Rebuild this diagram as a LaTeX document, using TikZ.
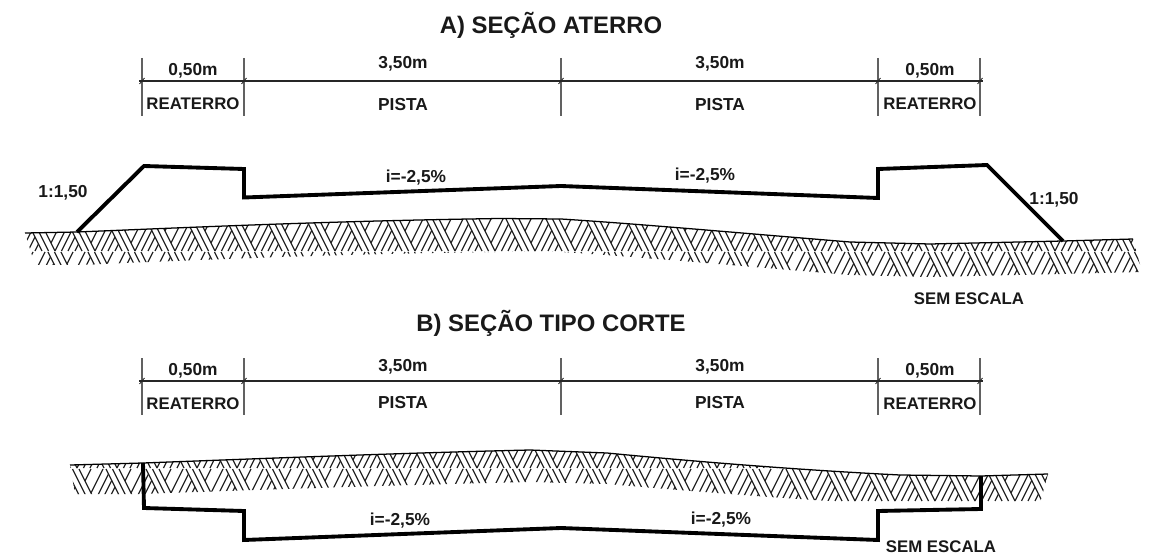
\documentclass[tikz,border=0pt]{standalone}
\usepackage{fontspec}
\setmainfont{Liberation Sans}
\tikzset{
  px/.style={x=0.75pt,y=-0.75pt},
  road/.style={line width=2.9pt,line join=miter,black},
  groundline/.style={line width=0.95pt,black},
  hatch/.style={line width=0.9pt,black!85},
  dimline/.style={line width=1pt,black!62},
  dimhoriz/.style={line width=0.85pt,black!85},
  dimtick/.style={line width=0.5pt,black},
  txt/.style={inner sep=0pt,font=\fontsize{13pt}{14pt}\selectfont\bfseries,text=black!90},
  txtb/.style={inner sep=0pt,font=\fontsize{12.6pt}{14pt}\selectfont\bfseries,text=black!90},
  ttl/.style={inner sep=0pt,font=\fontsize{17.9pt}{20pt}\selectfont\bfseries,text=black!90}
}
% herringbone tiles: #1 row top y, #2 x shift
\newcommand{\hbrow}[2]{%
  \foreach \k in {-1,...,29}{
    \pgfmathsetmacro{\u}{#2+40*\k}
    \draw[hatch] ({\u},#1) -- ++(16,32) ({\u+6.5},#1) -- ++(16,32) ({\u+13},#1) -- ++(16,32)
      ({\u+29},#1+32) -- ({\u+42.5},#1+5)
      ({\u+35.5},#1+32) -- ({\u+45.75},#1+11.5)
      ({\u+42},#1+32) -- ({\u+49},#1+18)
      ({\u+49},#1+32) -- ({\u+52.5},#1+25)
      ({\u+19},#1+12) -- ({\u+25},#1)
      ({\u+25},#1+24) -- ({\u+37},#1);
  }}
\begin{document}
\begin{tikzpicture}[px]
\useasboundingbox (0,0) rectangle (1161,556);
\node[ttl] (ta) at (551,25) {A) SEÇÃO ATERRO};
\node[ttl] (tb) at (551,323) {B) SEÇÃO TIPO CORTE};
% ---- section A
\begin{scope}
\clip (25,233) -- (77,232) .. controls (200,227) and (330,221) .. (500,218.5)
  -- (561,219) .. controls (640,224) and (740,233) .. (850,242) -- (930,244) -- (1063,241) -- (1133,239)
  -- (1142,272) -- (1060,274) -- (930,277) -- (850,275) .. controls (740,266) and (640,257) .. (561,252)
  -- (500,252) .. controls (330,254) and (200,260) .. (77,265) -- (35,265) -- cycle;
\hbrow{186}{8}\hbrow{219}{26}\hbrow{252}{8}
\end{scope}
\draw[groundline] (25,233) coordinate (ga0) -- (77,232) coordinate (ga1) .. controls (200,227) and (330,221) .. (500,218.5)
  -- (561,219) .. controls (640,224) and (740,233) .. (850,242) -- (930,244) -- (1063,241) coordinate (ga2) -- (1133,239) coordinate (ga3);
\draw[road] (ga1) -- (144,166) -- (244,169) -- (244,197.5) -- (561,186) -- (878,198) -- (878,169) -- (987,165) -- (ga2);
% dims A
\foreach \x/\n in {142/a,244/b,561/c,878/d,980/e}{
  \coordinate (\n t) at (\x,58); \coordinate (\n b) at (\x,116);
  \draw[dimline] (\n t) -- (\n b);
  \draw[dimtick] (\x-2.5,84) -- (\x+2.5,78);
}
\draw[dimhoriz] (139,81) -- (983,81);
\node[txt] (a1) at (193,71) {0,50m};
\node[txt] (a2) at (403,64) {3,50m};
\node[txt] (a3) at (720,64) {3,50m};
\node[txt] (a4) at (930,71) {0,50m};
\node[txtb] (a5) at (193,104) {REATERRO};
\node[txt] (a6) at (403,105) {PISTA};
\node[txt] (a7) at (720,105) {PISTA};
\node[txtb] (a8) at (930,104) {REATERRO};
\node[txt] (a9) at (63,193) {1:1,50};
\node[txt] (a10) at (1054,200) {1:1,50};
\node[txt] (a11) at (416,178) {i=-2,5\%};
\node[txt] (a12) at (705,176) {i=-2,5\%};
\node[txtb] (a13) at (969,299) {SEM ESCALA};
% ---- section B
\begin{scope}
\clip (70,465) -- (143,463) .. controls (250,459) and (400,453) .. (530,450) -- (607,453)
  .. controls (700,462) and (800,470) .. (900,475) -- (980,476) -- (1048,474) -- (1040,503) -- (980,506) -- (900,505)
  .. controls (800,500) and (700,492) .. (607,484) -- (530,482) .. controls (400,485) and (250,490) .. (143,494) -- (75,494) -- cycle;
\hbrow{403}{20}\hbrow{436}{8}\hbrow{469}{26}
\end{scope}
\draw[groundline] (70,465) -- (143,463) coordinate (gb1) .. controls (250,459) and (400,453) .. (530,450) -- (607,453)
  .. controls (700,462) and (800,470) .. (900,475) -- (981,476) coordinate (gb2) -- (1048,474);
\draw[road] (gb1) -- (144,508) -- (244,511) -- (244,540) -- (561,528) -- (878,540) -- (878,511) -- (981,509) -- (gb2);
\foreach \x/\n in {142/f,244/g,561/h,878/i,980/j}{
  \coordinate (\n t) at (\x,358); \coordinate (\n b) at (\x,415);
  \draw[dimline] (\n t) -- (\n b);
  \draw[dimtick] (\x-2.5,384) -- (\x+2.5,378);
}
\draw[dimhoriz] (139,381) -- (983,381);
\node[txt] (b1) at (193,371) {0,50m};
\node[txt] (b2) at (403,367) {3,50m};
\node[txt] (b3) at (720,367) {3,50m};
\node[txt] (b4) at (930,371) {0,50m};
\node[txtb] (b5) at (193,404) {REATERRO};
\node[txt] (b6) at (403,403) {PISTA};
\node[txt] (b7) at (720,403) {PISTA};
\node[txtb] (b8) at (930,404) {REATERRO};
\node[txt] (b9) at (400,521) {i=-2,5\%};
\node[txt] (b10) at (721,520) {i=-2,5\%};
\node[txtb] (b11) at (941,547) {SEM ESCALA};
\end{tikzpicture}
\end{document}
